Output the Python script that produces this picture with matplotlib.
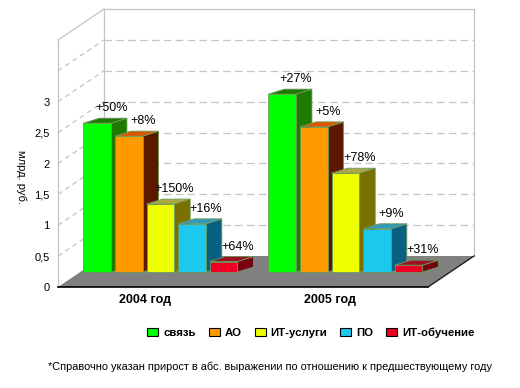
import matplotlib
matplotlib.use("Agg")
import matplotlib.pyplot as plt
from matplotlib.patches import Polygon, Patch

plt.rcParams['font.family'] = ['Liberation Sans', 'DejaVu Sans']

# ---- data ----
years = ["2004 год", "2005 год"]
series = ["связь", "АО", "ИТ-услуги", "ПО", "ИТ-обучение"]
values_2004 = [2.41, 2.20, 1.10, 0.78, 0.17]
values_2005 = [2.88, 2.35, 1.60, 0.70, 0.11]
growth_2004 = ["+50%", "+8%", "+150%", "+16%", "+64%"]
growth_2005 = ["+27%", "+5%", "+78%", "+9%", "+31%"]
yticks = [0, 0.5, 1, 1.5, 2, 2.5, 3]
ytick_labels = ["0", "0,5", "1", "1,5", "2", "2,5", "3"]
footnote = "*Справочно указан прирост в абс. выражении по отношению к предшествующему году"
ylabel = "млрд. руб."

front_colors = ["#00FF00", "#FF9900", "#EEFF00", "#1CC8EE", "#EE0022"]
top_colors = ["#1E7A00", "#DD5500", "#AAAA44", "#3399BB", "#991122"]
side_colors = ["#1E7A00", "#5C1800", "#7A7000", "#0A6080", "#770011"]

# ---- figure ----
W, H, DPI = 520, 388, 100
fig = plt.figure(figsize=(W / DPI, H / DPI), dpi=DPI)
ax = fig.add_axes([58 / W, (H - 287) / H, 370 / W, 247 / H])
XMIN, XMAX, YMAX = -0.432, 1.568, 4.0
ax.set_xlim(XMIN, XMAX)
ax.set_ylim(0, YMAX)
for s in ax.spines.values():
    s.set_visible(False)
ax.set_xticks([])
ax.set_yticks(yticks)
ax.set_yticklabels(ytick_labels, fontsize=8)
ax.tick_params(axis='y', length=0, pad=6)

# pixel -> data conversion
p0 = ax.transData.transform((0, 0))
p1 = ax.transData.transform((1, 1))
sx, sy = p1[0] - p0[0], p1[1] - p0[1]


def px(dx, dy):
    return dx / sx, dy / sy


WDX, WDY = px(46, 31)      # wall depth
MDX, MDY = px(22.5, 15)    # bar plane depth
BDX, BDY = px(16, 5)       # bar depth

grid_c = "#C4C4C4"
# back wall & left wall frame
ax.plot([XMIN, XMIN], [0, YMAX], color=grid_c, lw=0.9, clip_on=False, zorder=1)
ax.plot([XMIN + WDX, XMIN + WDX], [WDY, YMAX + WDY], color=grid_c, lw=0.9, clip_on=False, zorder=1)
ax.plot([XMAX + WDX, XMAX + WDX], [WDY, YMAX + WDY], color=grid_c, lw=0.9, clip_on=False, zorder=1)
ax.plot([XMIN + WDX, XMAX + WDX], [YMAX + WDY, YMAX + WDY], color=grid_c, lw=0.9, clip_on=False, zorder=1)
ax.plot([XMIN, XMIN + WDX], [YMAX, YMAX + WDY], color=grid_c, lw=0.9, clip_on=False, zorder=1)
for g in [0.5, 1, 1.5, 2, 2.5, 3, 3.5]:
    ax.plot([XMIN + WDX, XMAX + WDX], [g + WDY, g + WDY], color=grid_c, lw=0.9,
            dashes=(6, 3.5), clip_on=False, zorder=1)
    ax.plot([XMIN, XMIN + WDX], [g, g + WDY], color=grid_c, lw=0.9,
            dashes=(4, 3), clip_on=False, zorder=1)

# floor
floor = Polygon([(XMIN, 0), (XMAX, 0), (XMAX + WDX, WDY), (XMIN + WDX, WDY)],
                closed=True, facecolor="#808080", edgecolor="none", clip_on=False, zorder=2)
ax.add_patch(floor)
ax.plot([XMIN, XMAX], [0, 0], color="black", lw=1.2, clip_on=False, zorder=3)
ax.plot([XMAX, XMAX + WDX], [0, WDY], color="#202020", lw=1.0, clip_on=False, zorder=3)

# bars
n = len(series)
pitch, width = 0.171, 0.149
edge_c = "#6A9A5A"
z = 4
for gi, (vals, labs) in enumerate([(values_2004, growth_2004), (values_2005, growth_2005)]):
    for i in range(n):
        xc = gi + (i - (n - 1) / 2) * pitch + MDX
        x0, x1 = xc - width / 2, xc + width / 2
        b0, t = MDY, MDY + vals[i]
        side = Polygon([(x1, b0), (x1 + BDX, b0 + BDY), (x1 + BDX, t + BDY), (x1, t)],
                       closed=True, facecolor=side_colors[i], edgecolor=edge_c, lw=0.6,
                       clip_on=False, zorder=z)
        top = Polygon([(x0, t), (x1, t), (x1 + BDX, t + BDY), (x0 + BDX, t + BDY)],
                      closed=True, facecolor=top_colors[i], edgecolor=edge_c, lw=0.6,
                      clip_on=False, zorder=z)
        ax.add_patch(side)
        ax.add_patch(top)
        ax.bar(xc, vals[i], width=width, bottom=b0, color=front_colors[i],
               edgecolor=edge_c, linewidth=0.6, clip_on=False, zorder=z + 0.5)
        ax.annotate(labs[i], xy=(xc, t), xytext=(14, 15), textcoords='offset pixels',
                    ha='center', va='center', fontsize=9, zorder=z + 1, annotation_clip=False)
        z += 1

# category labels
for gi, lab in enumerate(years):
    ax.annotate(lab, xy=(gi, 0), xytext=(7, -13), textcoords='offset pixels',
                ha='center', va='center', fontsize=9, fontweight='bold', annotation_clip=False)

# y label
fig.text(21 / W, 1 - 177 / H, ylabel, rotation=270, ha='center', va='center', fontsize=8)

# legend
handles = [Patch(facecolor=c, edgecolor='black', linewidth=0.8) for c in front_colors]
fig.legend(handles, series, loc='center', bbox_to_anchor=(311 / W, 1 - 333 / H), ncol=5,
           frameon=False, prop={'weight': 'bold', 'size': 8.2}, handlelength=0.96,
           handleheight=0.7, handletextpad=0.44, columnspacing=1.14, borderaxespad=0)

# footnote
fig.text(270 / W, 1 - 367 / H, footnote, ha='center', va='center', fontsize=7.9)

fig.savefig("out.png", dpi=DPI)
